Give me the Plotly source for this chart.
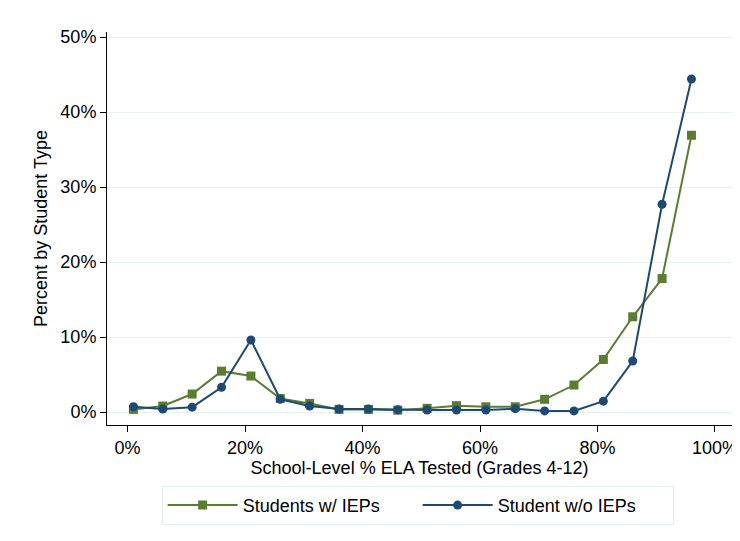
import plotly.graph_objects as go

x_pct = [1, 6, 11, 16, 21, 26, 31, 36, 41, 46, 51, 56, 61, 66, 71, 76, 81, 86, 91, 96]
with_iep = [0.35, 0.8, 2.4, 5.45, 4.8, 1.8, 1.15, 0.35, 0.35, 0.25, 0.5, 0.85, 0.7, 0.7,
            1.7, 3.6, 7.0, 12.7, 17.8, 36.9]
without_iep = [0.7, 0.4, 0.65, 3.3, 9.6, 1.7, 0.8, 0.4, 0.4, 0.3, 0.27, 0.27, 0.27, 0.45,
               0.15, 0.15, 1.45, 6.8, 27.7, 44.4]
x_ticks = [0, 20, 40, 60, 80, 100]
y_ticks = [0, 10, 20, 30, 40, 50]

GREEN = "#5a7d30"
BLUE = "#1d4a73"
FONT = "Liberation Sans, Arial, sans-serif"

fig = go.Figure()
fig.add_trace(go.Scatter(
    x=x_pct, y=with_iep, mode="lines+markers", name="Students w/ IEPs",
    line=dict(color=GREEN, width=2),
    marker=dict(symbol="square", size=9, color=GREEN),
))
fig.add_trace(go.Scatter(
    x=x_pct, y=without_iep, mode="lines+markers", name="Student w/o IEPs",
    line=dict(color=BLUE, width=2),
    marker=dict(symbol="circle", size=9, color=BLUE),
))

fig.update_layout(
    width=732, height=533,
    margin=dict(l=99, r=8, t=24, b=116),
    paper_bgcolor="white", plot_bgcolor="white",
    font=dict(family=FONT, size=18, color="#000000"),
    showlegend=True,
    legend=dict(
        orientation="h", x=0.497, xanchor="center", y=-0.155, yanchor="top",
        bordercolor="#e4eef0", borderwidth=1, bgcolor="white",
        font=dict(size=18), itemwidth=70, entrywidth=170,
    ),
    xaxis=dict(
        range=[-3.5, 102.9], tickvals=x_ticks,
        ticktext=[f"{v}%" for v in x_ticks],
        showgrid=False, zeroline=False, automargin=False,
        ticklabeloverflow="allow",
        showline=True, linecolor="#000000", linewidth=1,
        ticks="outside", ticklen=6, tickcolor="#000000",
        title=dict(text="School-Level % ELA Tested (Grades 4-12)", standoff=0,
                   font=dict(size=18)),
    ),
    yaxis=dict(
        range=[-1.73, 50.67], tickvals=y_ticks,
        ticktext=[f"{v}%" for v in y_ticks],
        showgrid=True, gridcolor="#e8f0f2", gridwidth=1, zeroline=False,
        showline=True, linecolor="#000000", linewidth=1,
        ticks="outside", ticklen=6, tickcolor="#000000",
        title=dict(text="Percent by Student Type", standoff=8, font=dict(size=18)),
    ),
)

fig.write_html("out.html")
